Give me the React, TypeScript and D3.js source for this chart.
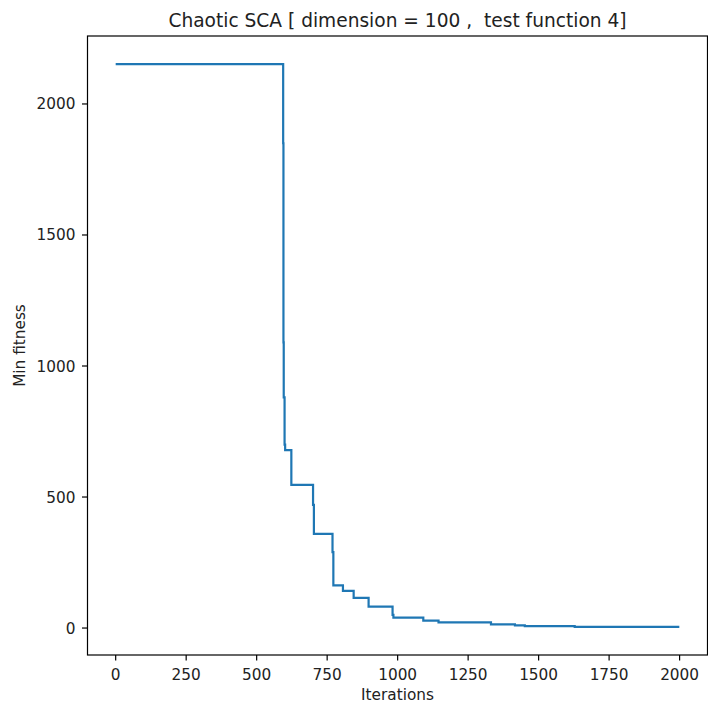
import React, { useEffect, useRef } from "react";
import * as d3 from "d3";

// iterations at which the best fitness changes, and the new value
const stepIters = [0, 594, 595, 596, 599, 601, 623, 700, 703, 769, 772, 806, 844, 897, 982, 985, 1091, 1145, 1331, 1416, 1451, 1628];
const stepValues = [2152, 1850, 1090, 880, 700, 679, 546, 470, 359, 290, 163, 142, 115, 82, 50, 40, 28, 22, 14, 10, 7, 4.5];
const lastIter = 1999;

const xTicks = [0, 250, 500, 750, 1000, 1250, 1500, 1750, 2000];
const yTicks = [0, 500, 1000, 1500, 2000];

const titleText = "Chaotic SCA [ dimension = 100 ,  test function 4]";
const xLabel = "Iterations";
const yLabel = "Min fitness";

export default function App() {
  const svgRef = useRef<SVGSVGElement | null>(null);
  const width = 708;
  const height = 707;

  useEffect(() => {
    if (!svgRef.current) return;
    const svg = d3.select(svgRef.current);
    svg.selectAll("*").remove();

    const left = 87.5, right = 707.5, top = 36, bottom = 655;
    const font = "DejaVu Sans, sans-serif";

    // matplotlib style 5% margins
    const xMin = 0, xMax = lastIter;
    const yMin = d3.min(stepValues) as number, yMax = d3.max(stepValues) as number;
    const xm = (xMax - xMin) * 0.05, ym = (yMax - yMin) * 0.05;

    const x = d3.scaleLinear().domain([xMin - xm, xMax + xm]).range([left, right]);
    const y = d3.scaleLinear().domain([yMin - ym, yMax + ym]).range([bottom, top]);

    const pts: [number, number][] = stepIters.map((it, i) => [it, stepValues[i]]);
    pts.push([lastIter, stepValues[stepValues.length - 1]]);

    const line = d3.line<[number, number]>()
      .x(d => x(d[0]))
      .y(d => y(d[1]))
      .curve(d3.curveStepAfter);

    svg.append("path")
      .datum(pts)
      .attr("d", line)
      .attr("fill", "none")
      .attr("stroke", "#1f77b4")
      .attr("stroke-width", 2.2)
      .attr("stroke-linejoin", "miter");

    // spines
    svg.append("rect")
      .attr("x", left).attr("y", top)
      .attr("width", right - left).attr("height", bottom - top)
      .attr("fill", "none").attr("stroke", "#000").attr("stroke-width", 1.2);

    // x ticks
    const xg = svg.append("g");
    xTicks.forEach(t => {
      const px = x(t);
      xg.append("line").attr("x1", px).attr("x2", px).attr("y1", bottom).attr("y2", bottom + 5.5)
        .attr("stroke", "#000").attr("stroke-width", 1.2);
      xg.append("text").attr("x", px).attr("y", 679.5)
        .attr("text-anchor", "middle").attr("font-family", font).attr("font-size", 15.3)
        .attr("fill", "#222").text(t);
    });

    // y ticks
    const yg = svg.append("g");
    yTicks.forEach(t => {
      const py = y(t);
      yg.append("line").attr("x1", left - 5.5).attr("x2", left).attr("y1", py).attr("y2", py)
        .attr("stroke", "#000").attr("stroke-width", 1.2);
      yg.append("text").attr("x", 75.5).attr("y", py).attr("dy", "0.36em")
        .attr("text-anchor", "end").attr("font-family", font).attr("font-size", 15.3)
        .attr("fill", "#222").text(t);
    });

    svg.append("text").attr("x", (left + right) / 2).attr("y", 700)
      .attr("text-anchor", "middle").attr("font-family", font).attr("font-size", 15.3)
      .attr("fill", "#222").text(xLabel);

    svg.append("text")
      .attr("transform", `translate(24.5, ${(top + bottom) / 2}) rotate(-90)`)
      .attr("text-anchor", "middle").attr("font-family", font).attr("font-size", 15.3)
      .attr("fill", "#222").text(yLabel);

    svg.append("text").attr("x", (left + right) / 2).attr("y", 27)
      .attr("text-anchor", "middle").attr("font-family", font).attr("font-size", 18.6)
      .style("white-space", "pre")
      .attr("fill", "#222").text(titleText);
  }, []);

  return (
    <svg
      ref={svgRef}
      width={width}
      height={height}
      style={{ position: "absolute", left: 0, top: 0, background: "#fff" }}
    />
  );
}
